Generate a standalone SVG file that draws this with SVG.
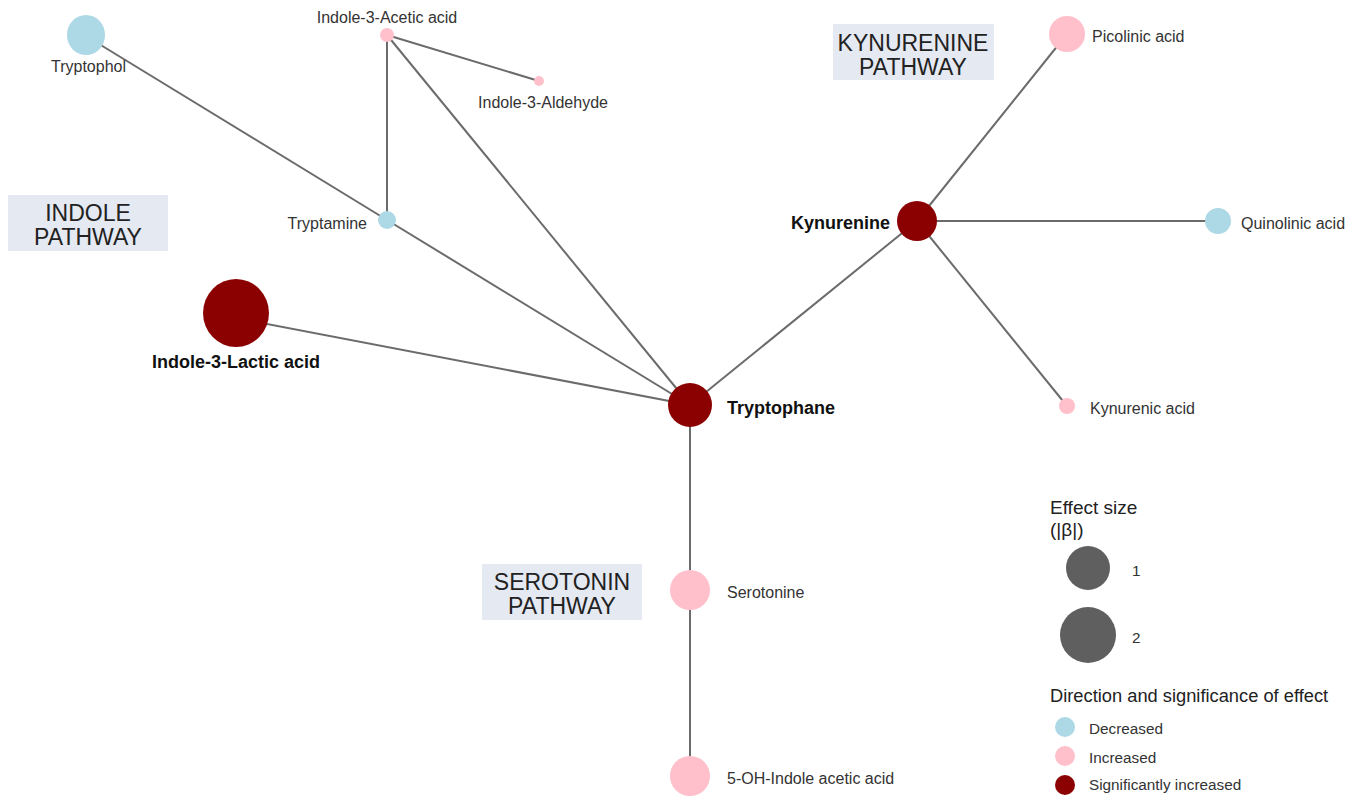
<svg xmlns="http://www.w3.org/2000/svg" width="1360" height="796" viewBox="0 0 1360 796">
<style>
.bg{fill:#ffffff}
.edge{stroke:#6b6b6b;stroke-width:2;fill:none}
.dec{fill:#add8e6}
.inc{fill:#ffc0cb}
.sig{fill:#8b0000}
.lbl{font-family:"Liberation Sans",Arial,sans-serif;font-size:16px;fill:#333333}
.blbl{font-family:"Liberation Sans",Arial,sans-serif;font-size:18px;font-weight:bold;fill:#111111}
.pbox{fill:#e5e9f2}
.ptxt{font-family:"Liberation Sans",Arial,sans-serif;font-size:23px;fill:#222222;text-anchor:middle}
.lg{font-family:"Liberation Sans",Arial,sans-serif;font-size:18.3px;fill:#222222}
.lgs{font-family:"Liberation Sans",Arial,sans-serif;font-size:15.3px;fill:#333333}
.gr{fill:#5f5f5f}
</style>
<rect class="bg" x="0" y="0" width="1360" height="796"/>

<g id="pathways">
<g id="indole-pathway"><rect class="pbox" x="8" y="195" width="160" height="56"/><text class="ptxt" x="88" y="221">INDOLE</text><text class="ptxt" x="88" y="245">PATHWAY</text></g>
<g id="kynurenine-pathway"><rect class="pbox" x="833" y="24" width="161" height="56"/><text class="ptxt" x="913" y="51">KYNURENINE</text><text class="ptxt" x="913" y="75">PATHWAY</text></g>
<g id="serotonin-pathway"><rect class="pbox" x="482" y="564" width="160" height="56"/><text class="ptxt" x="562" y="590">SEROTONIN</text><text class="ptxt" x="562" y="614">PATHWAY</text></g>
</g>

<g id="connectors">
<line class="edge" x1="86" y1="36" x2="387" y2="220"/>
<line class="edge" x1="387" y1="220" x2="690" y2="405"/>
<line class="edge" x1="387" y1="35" x2="387" y2="220"/>
<line class="edge" x1="387" y1="35" x2="539" y2="81"/>
<line class="edge" x1="387" y1="35" x2="690" y2="405"/>
<line class="edge" x1="236" y1="318" x2="690" y2="405"/>
<line class="edge" x1="690" y1="405" x2="917" y2="221"/>
<line class="edge" x1="917" y1="221" x2="1067" y2="34"/>
<line class="edge" x1="917" y1="221" x2="1218" y2="221"/>
<line class="edge" x1="917" y1="221" x2="1067" y2="406"/>
<line class="edge" x1="690" y1="405" x2="690" y2="776"/>
</g>

<g id="tryptophol"><ellipse class="dec" cx="86" cy="35" rx="19" ry="20"/><text class="lbl" x="51" y="72">Tryptophol</text></g>
<g id="indole-3-acetic-acid"><circle class="inc" cx="387" cy="35" r="7"/><text class="lbl" x="387" y="23" text-anchor="middle">Indole-3-Acetic acid</text></g>
<g id="indole-3-aldehyde"><circle class="inc" cx="539" cy="81" r="5"/><text class="lbl" x="543" y="108" text-anchor="middle">Indole-3-Aldehyde</text></g>
<g id="tryptamine"><circle class="dec" cx="387" cy="220" r="9"/><text class="lbl" x="367" y="229" text-anchor="end">Tryptamine</text></g>
<g id="indole-3-lactic-acid"><ellipse class="sig" cx="236" cy="313" rx="33" ry="34"/><text class="blbl" x="236" y="368" text-anchor="middle">Indole-3-Lactic acid</text></g>
<g id="tryptophane"><ellipse class="sig" cx="690" cy="405" rx="22" ry="22"/><text class="blbl" x="727" y="414">Tryptophane</text></g>
<g id="kynurenine"><circle class="sig" cx="917" cy="221" r="20"/><text class="blbl" x="890" y="229" text-anchor="end">Kynurenine</text></g>
<g id="picolinic-acid"><circle class="inc" cx="1067" cy="34" r="18"/><text class="lbl" x="1092" y="42">Picolinic acid</text></g>
<g id="quinolinic-acid"><circle class="dec" cx="1218" cy="221" r="13"/><text class="lbl" x="1241" y="229">Quinolinic acid</text></g>
<g id="kynurenic-acid"><circle class="inc" cx="1067" cy="406" r="8"/><text class="lbl" x="1090" y="414">Kynurenic acid</text></g>
<g id="serotonine"><circle class="inc" cx="690" cy="590" r="20"/><text class="lbl" x="727" y="598">Serotonine</text></g>
<g id="5-oh-indole-acetic-acid"><circle class="inc" cx="690" cy="776" r="20"/><text class="lbl" x="727" y="784">5-OH-Indole acetic acid</text></g>

<g id="legend">
<text class="lg" x="1050" y="514" style="font-size:19px">Effect size</text>
<text class="lg" x="1050" y="536" style="font-size:19px">(|β|)</text>
<circle class="gr" cx="1088" cy="568" r="22"/>
<text class="lgs" x="1132" y="576">1</text>
<circle class="gr" cx="1088" cy="635" r="28"/>
<text class="lgs" x="1132" y="643">2</text>
<text class="lg" x="1050" y="702">Direction and significance of effect</text>
<circle class="dec" cx="1065" cy="727" r="10"/>
<text class="lgs" x="1089" y="734">Decreased</text>
<circle class="inc" cx="1065" cy="756" r="10"/>
<text class="lgs" x="1089" y="763">Increased</text>
<circle class="sig" cx="1065" cy="785" r="10"/>
<text class="lgs" x="1089" y="790">Significantly increased</text>
</g>
</svg>
